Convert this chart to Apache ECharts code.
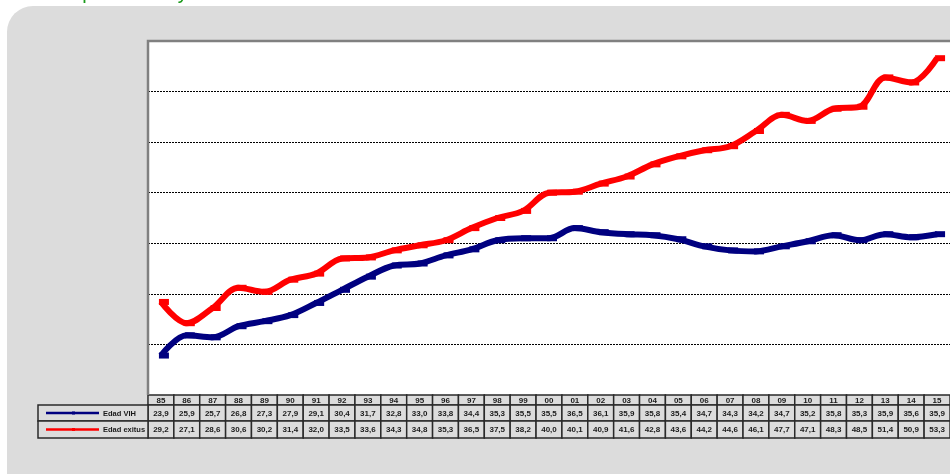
<!DOCTYPE html>
<html>
<head>
<meta charset="utf-8">
<script src="https://cdn.jsdelivr.net/npm/echarts@6/dist/echarts.min.js"></script>
<style>
  html, body { margin: 0; padding: 0; background: #ffffff; }
  #chart { width: 950px; height: 474px; }
</style>
</head>
<body>
<div id="chart"></div>
<script>
  // datos
  var years = ['85', '86', '87', '88', '89', '90', '91', '92', '93', '94', '95', '96', '97', '98', '99', '00',
    '01', '02', '03', '04', '05', '06', '07', '08', '09', '10', '11', '12', '13', '14', '15'];
  var edadVih = [23.9, 25.9, 25.7, 26.8, 27.3, 27.9, 29.1, 30.4, 31.7, 32.8, 33.0, 33.8, 34.4, 35.3, 35.5, 35.5,
    36.5, 36.1, 35.9, 35.8, 35.4, 34.7, 34.3, 34.2, 34.7, 35.2, 35.8, 35.3, 35.9, 35.6, 35.9];
  var edadExitus = [29.2, 27.1, 28.6, 30.6, 30.2, 31.4, 32.0, 33.5, 33.6, 34.3, 34.8, 35.3, 36.5, 37.5, 38.2, 40.0,
    40.1, 40.9, 41.6, 42.8, 43.6, 44.2, 44.6, 46.1, 47.7, 47.1, 48.3, 48.5, 51.4, 50.9, 53.3];
  var seriesNames = ['Edad VIH', 'Edad exitus'];

  var chart = echarts.init(document.getElementById('chart'));

  var gridLeft = 148, gridTop = 41, gridW = 804, gridH = 354;

  chart.setOption({
    animation: false,
    grid: {
      left: gridLeft, top: gridTop, width: gridW, height: gridH,
      show: true, backgroundColor: '#ffffff', borderWidth: 0
    },
    xAxis: {
      type: 'category',
      data: years,
      boundaryGap: true,
      axisLine: { show: false },
      axisTick: { show: false },
      axisLabel: { show: false }
    },
    yAxis: {
      type: 'value',
      min: 20, max: 55, interval: 5,
      axisLine: { show: false },
      axisTick: { show: false },
      axisLabel: { show: false },
      splitLine: { lineStyle: { color: '#000', type: [2, 1], width: 1 } }
    },
    series: [{
      name: seriesNames[0],
      type: 'line',
      smooth: 0.35,
      data: edadVih,
      symbol: 'rect', symbolSize: [10, 6], symbolOffset: [3, 0],
      itemStyle: { color: '#000080' },
      lineStyle: { color: '#000080', width: 6 }
    }, {
      name: seriesNames[1],
      type: 'line',
      smooth: 0.35,
      data: edadExitus,
      symbol: 'rect', symbolSize: [10, 6], symbolOffset: [3, 0],
      itemStyle: { color: '#ff0000' },
      lineStyle: { color: '#ff0000', width: 6 }
    }]
  });

  // fondo, titulo y borde del area de trazado
  var graphics = [{
    type: 'rect', z: -10, silent: true,
    shape: { x: 7, y: 6, width: 1000, height: 520, r: 26 },
    style: { fill: '#dcdcdc' }
  }, {
    type: 'text', z: 5, x: 40, y: -17,
    style: { text: 'Compara edad y exitus', fill: '#1a9a1a', font: '20px Arial' }
  }, {
    type: 'polyline', z: 30,
    shape: { points: [[gridLeft, gridTop + gridH], [gridLeft, gridTop], [gridLeft + gridW, gridTop]] },
    style: { stroke: '#808080', lineWidth: 2.5, fill: null }
  }];

  // tabla de datos debajo del grafico
  var fmt = function (v) { return v.toFixed(1).replace('.', ','); };
  var colW = gridW / years.length;
  var rowTop = [395, 405, 421], rowH = [10, 16, 17];
  var cellStyle = { fill: '#dcdcdc', stroke: '#2a2a2a', lineWidth: 1.5 };
  var txt = function (x, y, s, align, size) {
    return {
      type: 'text', z: 20, x: x, y: y,
      style: { text: s, fill: '#1a1a1a', font: 'bold ' + (size || 8) + 'px Arial', align: align || 'center', verticalAlign: 'middle' }
    };
  };
  years.forEach(function (y, i) {
    var cx = chart.convertToPixel({ xAxisIndex: 0 }, i);
    var x0 = cx - colW / 2;
    var vals = [y, fmt(edadVih[i]), fmt(edadExitus[i])];
    for (var r = 0; r < 3; r++) {
      graphics.push({ type: 'rect', z: 10, shape: { x: x0, y: rowTop[r], width: colW, height: rowH[r] }, style: cellStyle });
      graphics.push(txt(cx, rowTop[r] + rowH[r] / 2 + 0.5, vals[r]));
    }
  });
  // leyenda en la tabla
  var legColors = ['#000080', '#ff0000'];
  for (var r = 1; r < 3; r++) {
    var my = rowTop[r] + rowH[r] / 2;
    graphics.push({ type: 'rect', z: 10, shape: { x: 38, y: rowTop[r], width: gridLeft - 38, height: rowH[r] }, style: cellStyle });
    graphics.push({ type: 'line', z: 20, shape: { x1: 46, y1: my, x2: 99, y2: my }, style: { stroke: legColors[r - 1], lineWidth: 2.5 } });
    graphics.push({ type: 'rect', z: 21, shape: { x: 72, y: my - 1.5, width: 3, height: 3 }, style: { fill: legColors[r - 1] } });
    graphics.push(txt(103, my + 0.5, seriesNames[r - 1], 'left', 7.5));
  }
  chart.setOption({ graphic: graphics });
</script>
</body>
</html>
